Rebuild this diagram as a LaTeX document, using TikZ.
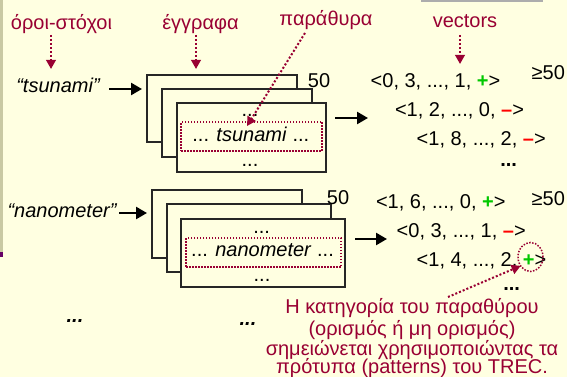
\documentclass[tikz,border=0pt]{standalone}
\usepackage{fontspec}
\setmainfont{Liberation Sans}
\usetikzlibrary{arrows.meta,shapes.geometric}
\definecolor{bg}{HTML}{FFFFE1}
\definecolor{crim}{HTML}{990033}
\definecolor{grn}{HTML}{00C800}
\definecolor{rd}{HTML}{FF0000}
\definecolor{barc}{HTML}{C9C9A3}
\definecolor{tickc}{HTML}{660066}
\definecolor{topbar}{HTML}{ADADAD}
\newcommand{\gplus}{\textcolor{grn}{\textbf{+}}}
\newcommand{\rminus}{\textcolor{rd}{\textbf{–}}}
\begin{document}
\begin{tikzpicture}[x=1pt,y=-1pt,
  every node/.style={font=\fontsize{20}{24}\selectfont, inner sep=0pt, outer sep=0pt},
  lbl/.style={text=crim, anchor=base},
  vec/.style={anchor=base west},
  ctr/.style={anchor=base},
  docbox/.style={draw=black!85, line width=1.4pt, fill=bg, anchor=north west},
  win/.style={draw=crim, line width=1.5pt, dash pattern=on 1.5pt off 1.5pt, anchor=north west},
  darr/.style={draw=crim, line width=2pt, dash pattern=on 2pt off 2pt,
    -{Triangle[length=9pt,width=9.5pt,fill=crim]}},
  barr/.style={line width=2.5pt, -{Triangle[length=11pt,width=12pt]}}
]
\useasboundingbox (0,0) rectangle (567,377);
\fill[bg] (0,0) rectangle (567,377);
\fill[barc] (0,0) rectangle (3,252);
\fill[tickc] (0,252) rectangle (3,257);
\fill[topbar] (421,0) rectangle (543,2.5);

% labels
\node[lbl] (l1) at (61.5,30) {όροι-στόχοι};
\node[lbl] (l2) at (200.5,30) {έγγραφα};
\node[lbl] (l3) at (326,26) {παράθυρα};
\node[lbl] (l4) at (465,28) {vectors};

% terms
\node[ctr] (tsu) at (58,93) {\itshape “tsunami”};
\node[ctr] (nano) at (62,217.3) {\itshape “nanometer”};

% top documents
\node[docbox, minimum width=150pt, minimum height=67pt] (d1a) at (147,75) {};
\node[docbox, minimum width=150pt, minimum height=68pt] (d1b) at (162,89) {};
\node[docbox, minimum width=149pt, minimum height=69pt] (d1c) at (177,103) {};
\node[win, minimum width=141pt, minimum height=29pt] (w1) at (181,122) {};
\node[ctr] (t1a) at (250,116.7) {...};
\node[ctr] (t1b) at (250.8,141.7) {... \textit{tsunami} ...};
\node[ctr] (t1c) at (250,166) {...};
\node[ctr] (n1) at (319,88) {50};

% bottom documents
\node[docbox, minimum width=150pt, minimum height=68pt] (d2a) at (152,190) {};
\node[docbox, minimum width=164pt, minimum height=68pt] (d2b) at (167,204) {};
\node[docbox, minimum width=164pt, minimum height=68pt] (d2c) at (181,219) {};
\node[win, minimum width=155pt, minimum height=29pt] (w2) at (186,238) {};
\node[ctr] (t2a) at (261.7,233.3) {...};
\node[ctr] (t2b) at (262.5,256) {... \textit{nanometer} ...};
\node[ctr] (t2c) at (262,281) {...};
\node[ctr] (n2) at (338,204) {50};

% vectors top
\node[vec] (v11) at (370.7,87.3) {<0, 3, ..., 1, \gplus>};
\node[vec] (v12) at (395,116.7) {<1, 2, ..., 0, \rminus>};
\node[vec] (v13) at (416.7,145) {<1, 8, ..., 2, \rminus>};
\node[ctr] (v1d) at (508.7,166.5) {\bfseries ...};
\node[vec] (g1) at (531.7,80) {≥50};

% vectors bottom
\node[vec] (v21) at (376,208.3) {<1, 6, ..., 0, \gplus>};
\node[vec] (v22) at (396.7,237.7) {<0, 3, ..., 1, \rminus>};
\node[vec] (v23) at (416.7,266.7) {<1, 4, ..., 2, \gplus>};
\node[ctr] (v2d) at (511.7,290) {\bfseries ...};
\node[vec] (g2) at (531.7,205) {≥50};

\node[draw=crim, line width=1.5pt, dash pattern=on 1.5pt off 1.5pt,
  ellipse, minimum width=25pt, minimum height=29pt] (circ) at (530.5,257) {};

% bottom ellipses
\node[ctr] (e1) at (75,322) {\bfseries\itshape ...};
\node[ctr] (e2) at (248,325) {\bfseries\itshape ...};

% caption
\node[lbl] (c1) at (412,313.3) {Η κατηγορία του παραθύρου};
\node[lbl] (c2) at (412,335) {(ορισμός ή μη ορισμός)};
\node[lbl] (c3) at (412,355) {σημειώνεται χρησιμοποιώντας τα};
\node[lbl] (c4) at (412,373.3) {πρότυπα (patterns) του TREC.};

% black arrows
\coordinate (a1s) at (109,89);  \coordinate (a1e) at (142,89);
\coordinate (a2s) at (335,118); \coordinate (a2e) at (368,118);
\coordinate (a3s) at (119,213); \coordinate (a3e) at (147,213);
\coordinate (a4s) at (355,239); \coordinate (a4e) at (387,239);
\draw[barr] (a1s) -- (a1e);
\draw[barr] (a2s) -- (a2e);
\draw[barr] (a3s) -- (a3e);
\draw[barr] (a4s) -- (a4e);

% dotted label arrows
\coordinate (p1s) at (51,35);   \coordinate (p1e) at (51,69);
\coordinate (p2s) at (196,35);  \coordinate (p2e) at (196,69);
\coordinate (p3s) at (305,33);  \coordinate (p3e) at (247,126);
\coordinate (p4s) at (460,35);  \coordinate (p4e) at (460,64);
\coordinate (p5s) at (448,297);
\draw[darr] (p1s) -- (p1e);
\draw[darr] (p2s) -- (p2e);
\draw[darr] (p3s) -- (p3e);
\draw[darr] (p4s) -- (p4e);
\draw[darr] (p5s) -- (circ.222);
\end{tikzpicture}
\end{document}
